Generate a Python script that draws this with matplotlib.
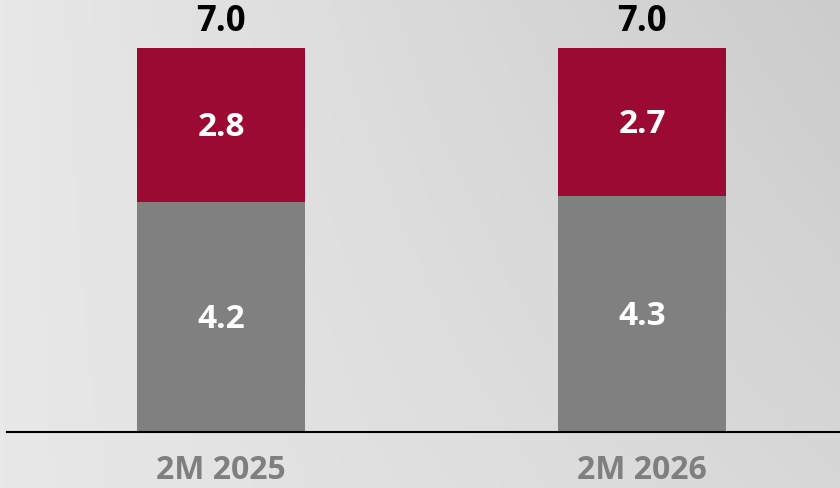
import numpy as np
import matplotlib
matplotlib.use("Agg")
from matplotlib import pyplot as plt

categories = ["2M 2025", "2M 2026"]
bottom_vals = [4.2, 4.3]   # gray segment
top_vals = [2.8, 2.7]      # red segment
totals = [7.0, 7.0]

plt.rcParams['font.family'] = ['Open Sans', 'DejaVu Sans']

fig = plt.figure(figsize=(8.4, 4.88), dpi=100)

# brushed-metal style background gradient
bg = fig.add_axes([0, 0, 1, 1], zorder=0)
gx = np.linspace(0, 1, 200)
gy = np.linspace(0, 1, 100)
X, Y = np.meshgrid(gx, gy)
shade = 0.91 - 0.11 * X * (0.6 + 0.4 * (1 - Y))
bg.imshow(np.dstack([shade] * 3), aspect='auto', extent=[0, 1, 0, 1], origin='upper')
bg.axis('off')

ax = fig.add_axes([7 / 840, 56 / 488, 833 / 840, 432 / 488], zorder=1)
ax.patch.set_alpha(0)

x = np.arange(len(categories))
w = 168 / 421
ax.bar(x, bottom_vals, width=w, color='#808080')
ax.bar(x, top_vals, width=w, bottom=bottom_vals, color='#9b0a33')

for i in range(len(categories)):
    ax.text(x[i], bottom_vals[i] / 2 - 0.05, '{:.1f}'.format(bottom_vals[i]), ha='center', va='center',
            color='white', fontsize=24, fontweight='bold')
    ax.text(x[i], bottom_vals[i] + top_vals[i] / 2 - 0.05, '{:.1f}'.format(top_vals[i]), ha='center', va='center',
            color='white', fontsize=24, fontweight='bold')
    ax.text(x[i], totals[i] + 0.15, '{:.1f}'.format(totals[i]), ha='center', va='bottom',
            color='black', fontsize=25, fontweight='bold')

ax.set_xlim(-214 / 421, (833 - 214) / 421)
ax.set_ylim(0, 432 / 54.86)
ax.set_xticks(x)
ax.set_xticklabels(categories, color='#7f7f7f', fontsize=23, fontweight='bold')
ax.tick_params(axis='x', length=0, pad=16)
ax.set_yticks([])
for s in ['top', 'right', 'left']:
    ax.spines[s].set_visible(False)
ax.spines['bottom'].set_color('black')
ax.spines['bottom'].set_linewidth(1.5)

fig.savefig('out.png', dpi=100)
